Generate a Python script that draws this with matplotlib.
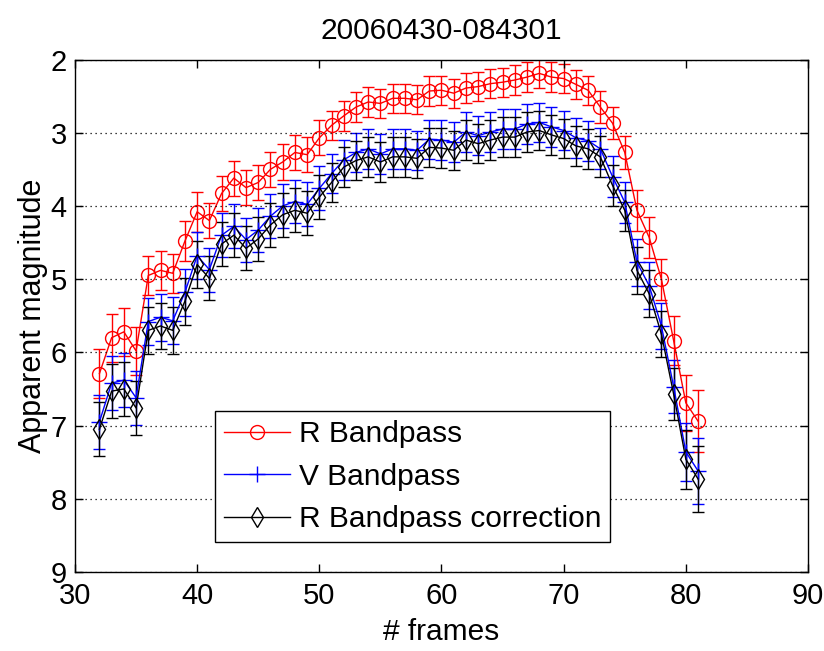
import matplotlib
matplotlib.use("Agg")
import matplotlib.pyplot as plt
from matplotlib.lines import Line2D

plt.rcParams['font.family'] = ['Liberation Sans', 'DejaVu Sans']

frames = list(range(32, 82))

r_band = [6.29, 5.80, 5.72, 5.98, 4.95, 4.88, 4.92, 4.48, 4.08, 4.20,
          3.83, 3.62, 3.75, 3.68, 3.50, 3.40, 3.27, 3.30, 3.07, 2.90,
          2.77, 2.65, 2.58, 2.60, 2.53, 2.53, 2.55, 2.43, 2.42, 2.46,
          2.39, 2.37, 2.33, 2.31, 2.28, 2.24, 2.19, 2.24, 2.26, 2.34,
          2.42, 2.65, 2.87, 3.27, 4.06, 4.43, 5.00, 5.84, 6.69, 6.94]

v_band = [6.95, 6.42, 6.38, 6.62, 5.58, 5.52, 5.57, 5.18, 4.68, 4.87,
          4.40, 4.28, 4.46, 4.33, 4.14, 4.00, 3.94, 3.98, 3.76, 3.56,
          3.37, 3.27, 3.22, 3.29, 3.22, 3.22, 3.24, 3.09, 3.10, 3.13,
          2.99, 3.04, 2.99, 2.95, 2.95, 2.88, 2.86, 2.92, 2.97, 3.07,
          3.11, 3.22, 3.60, 3.95, 4.77, 5.09, 5.64, 6.47, 7.36, 7.62]

r_corr = [7.05, 6.53, 6.50, 6.76, 5.70, 5.64, 5.70, 5.30, 4.80, 4.99,
          4.52, 4.40, 4.58, 4.45, 4.26, 4.12, 4.06, 4.10, 3.88, 3.68,
          3.47, 3.38, 3.33, 3.40, 3.33, 3.33, 3.35, 3.20, 3.21, 3.24,
          3.10, 3.15, 3.10, 3.06, 3.06, 2.99, 2.97, 3.03, 3.08, 3.18,
          3.22, 3.33, 3.72, 4.06, 4.88, 5.20, 5.75, 6.57, 7.46, 7.73]

r_err = [0.33, 0.33, 0.33, 0.33, 0.27, 0.27, 0.27, 0.27, 0.27, 0.24,
         0.24, 0.24, 0.24, 0.24, 0.24, 0.24, 0.24, 0.24, 0.24, 0.20,
         0.20, 0.20, 0.20, 0.20, 0.20, 0.20, 0.20, 0.20, 0.20, 0.20,
         0.20, 0.20, 0.20, 0.20, 0.20, 0.20, 0.20, 0.20, 0.20, 0.20,
         0.20, 0.22, 0.22, 0.22, 0.28, 0.28, 0.28, 0.33, 0.38, 0.42]

vb_err = [0.37, 0.37, 0.37, 0.37, 0.32, 0.32, 0.32, 0.32, 0.32, 0.30,
          0.30, 0.30, 0.30, 0.30, 0.30, 0.30, 0.30, 0.30, 0.30, 0.27,
          0.27, 0.27, 0.27, 0.27, 0.27, 0.27, 0.27, 0.27, 0.27, 0.27,
          0.27, 0.27, 0.27, 0.27, 0.27, 0.27, 0.27, 0.27, 0.27, 0.27,
          0.27, 0.28, 0.28, 0.28, 0.32, 0.32, 0.32, 0.36, 0.40, 0.45]

labels = ['R Bandpass', 'V Bandpass', 'R Bandpass correction']
x_ticks = [30, 40, 50, 60, 70, 80, 90]
y_ticks = [2, 3, 4, 5, 6, 7, 8, 9]

fig = plt.figure(figsize=(8.24, 6.51), dpi=100)
ax = fig.add_axes([0.091, 0.1214, 0.8896, 0.7872])

styles = [
    dict(color='#ff0000', marker='o', markersize=10, markerfacecolor='none'),
    dict(color='#0000ff', marker='+', markersize=11),
    dict(color='black', marker='d', markersize=10, markerfacecolor='none'),
]
series = [(r_band, r_err), (v_band, vb_err), (r_corr, vb_err)]

handles = []
for (vals, err), st, lab in zip(series, styles, labels):
    ax.errorbar(frames, vals, yerr=err, capsize=4.5, elinewidth=1.0,
                linewidth=1.0, markeredgewidth=1.0, **st)
    handles.append(Line2D([], [], linewidth=1.0, markeredgewidth=1.0, **st))

ax.set_xlim(30, 90)
ax.set_ylim(9, 2)
ax.set_xticks(x_ticks)
ax.set_yticks(y_ticks)
ax.tick_params(direction='in', length=6, width=1, labelsize=21,
               top=True, right=True)
ax.tick_params(axis='x', pad=7)
ax.tick_params(axis='y', pad=6)
ax.yaxis.grid(True, linestyle=(0, (1, 3)), color='black', linewidth=0.9)
ax.set_axisbelow(False)
for s in ax.spines.values():
    s.set_linewidth(1.0)

ax.set_title('20060430-084301', fontsize=21.5, pad=15)
ax.set_xlabel('# frames', fontsize=21.5, labelpad=6)
ax.set_ylabel('Apparent magnitude', fontsize=22, labelpad=2)

leg = ax.legend(handles, labels, loc='lower left',
                bbox_to_anchor=(0.191, 0.0585),
                fontsize=21.5, frameon=True, fancybox=False, edgecolor='black',
                framealpha=1, handlelength=2.2, labelspacing=0.48,
                borderpad=0.3, handletextpad=0.3, borderaxespad=0)
leg.get_frame().set_linewidth(1.0)

fig.savefig('out.png', dpi=100)
